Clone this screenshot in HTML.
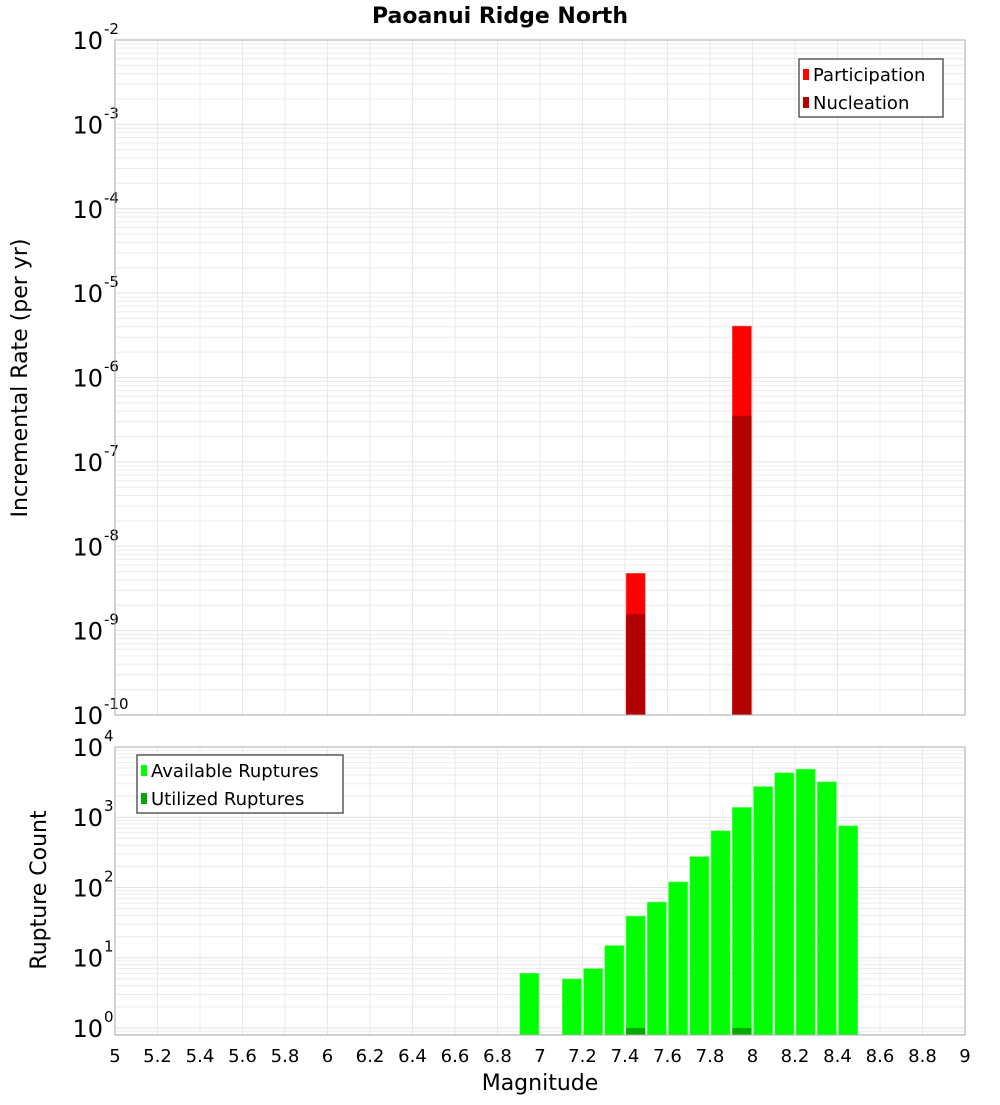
<!DOCTYPE html>
<html><head><meta charset="utf-8"><style>
body{margin:0;background:#fff;font-family:"Liberation Sans","DejaVu Sans",sans-serif}
svg text{font-family:"DejaVu Sans","Liberation Sans",sans-serif}
</style></head><body>
<svg id="chart" width="1000" height="1100" xmlns="http://www.w3.org/2000/svg">
<text x="500" y="23" text-anchor="middle" font-size="22" font-weight="bold">Paoanui Ridge North</text>
<g id="topPlot"></g>
<g id="botPlot"></g>
<text transform="translate(27,378) rotate(-90)" text-anchor="middle" font-size="22">Incremental Rate (per yr)</text>
<text transform="translate(46,890) rotate(-90)" text-anchor="middle" font-size="22">Rupture Count</text>
<text x="540" y="1090" text-anchor="middle" font-size="22">Magnitude</text>
</svg>
<script>
const topMags=[7.45,7.95];
const participation=[4.78e-9,4.07e-6];
const nucleation=[1.57e-9,3.52e-7];
const botMags=[6.95,7.15,7.25,7.35,7.45,7.55,7.65,7.75,7.85,7.95,8.05,8.15,8.25,8.35,8.45];
const available=[6.0,5.0,7.0,14.9,39,62,120,275,640,1380,2735,4290,4840,3190,754];
const utilizedMags=[7.45,7.95];
const utilized=[1,1];
const xTicks=[5,5.2,5.4,5.6,5.8,6,6.2,6.4,6.6,6.8,7,7.2,7.4,7.6,7.8,8,8.2,8.4,8.6,8.8,9];
const topExp=[-2,-3,-4,-5,-6,-7,-8,-9,-10];
const botExp=[4,3,2,1,0];

const NS="http://www.w3.org/2000/svg";
const L=115,R=965;
const xs=m=>L+(m-5)/4*(R-L);
const yTop=v=>40+(-2-Math.log10(v))*(715-40)/8;
const botMin=-0.1;
const yBot=v=>1035-(Math.log10(v)-botMin)*(1035-747)/(4-botMin);
function el(p,tag,a){const e=document.createElementNS(NS,tag);for(const k in a)e.setAttribute(k,a[k]);p.appendChild(e);return e;}
function panel(g,y0,y1,yf,exps,lo,hi){
  el(g,'rect',{x:L,y:y0,width:R-L,height:y1-y0,fill:'#fff'});
  for(let e=lo;e<hi;e++)for(let k=1;k<10;k++){const v=k*Math.pow(10,e);const y=yf(v);if(y<y0-0.5||y>y1+0.5)continue;
    const ln=el(g,'line',{x1:L,x2:R,y1:y,y2:y,stroke:k==1?'#e2e2e2':'#ececec','stroke-width':1});
    
    }
  xTicks.forEach(t=>{const ln=el(g,'line',{x1:xs(t),x2:xs(t),y1:y0,y2:y1,stroke:'#e8e8e8'});
    
    });
  exps.forEach(e=>{const y=yf(Math.pow(10,e));
    const t=el(g,'text',{x:103,y:y+9,'text-anchor':'end','font-size':24});
    
    
    t.textContent='10';const s=el(g,'text',{x:104,y:y-6,'font-size':15});s.textContent=String(e);
    
    });
}
const topG=document.getElementById('topPlot'),botG=document.getElementById('botPlot');
panel(topG,40,715,yTop,topExp,-10,-2);
panel(botG,747,1035,yBot,botExp,-1,4);
const bw=0.09;
topMags.forEach((m,i)=>{
  const x=xs(m-bw/2),w=xs(m+bw/2)-x;
  const r1=el(topG,'rect',{x:x,y:yTop(participation[i]),width:w,height:715-yTop(participation[i]),fill:'#ff0000',stroke:'#ff6060','stroke-width':0.6});
  
  
  const r2=el(topG,'rect',{x:x,y:yTop(nucleation[i]),width:w,height:715-yTop(nucleation[i]),fill:'#b30000'});
  
  
});
botMags.forEach((m,i)=>{
  const x=xs(m-bw/2),w=xs(m+bw/2)-x;
  const r=el(botG,'rect',{x:x,y:yBot(available[i]),width:w,height:1035-yBot(available[i]),fill:'#00ff00',stroke:'#60ff60','stroke-width':0.6});
  
  
});
utilizedMags.forEach((m,i)=>{
  const x=xs(m-bw/2),w=xs(m+bw/2)-x;
  const r=el(botG,'rect',{x:x,y:yBot(utilized[i]),width:w,height:1035-yBot(utilized[i]),fill:'#00aa00'});
  
  
});
[[topG,40,715],[botG,747,1035]].forEach(([g,a,b])=>{const f=el(g,'rect',{x:L,y:a,width:R-L,height:b-a,fill:'none',stroke:'#aaa','stroke-width':1});
  
  });
xTicks.forEach(t=>{const tx=el(botG,'text',{x:xs(t),y:1062,'text-anchor':'middle','font-size':18});tx.textContent=String(t);
  
  });
function legend(g,x,y,w,items){
  const b=el(g,'rect',{x:x,y:y,width:w,height:58,fill:'#fff',stroke:'#333','stroke-width':1.2});
  
  
  items.forEach((it,i)=>{const cy=y+15+i*28;
    const s=el(g,'rect',{x:x+4,y:cy-5,width:6,height:11,fill:it[1]});
    
    
    const t=el(g,'text',{x:x+14,y:cy+7,'font-size':18});t.textContent=it[0];
    
    });
}
legend(topG,799,59,144,[['Participation','#ff0000'],['Nucleation','#b30000']]);
legend(botG,137,755,206,[['Available Ruptures','#00ff00'],['Utilized Ruptures','#00aa00']]);
</script>
</body></html>
